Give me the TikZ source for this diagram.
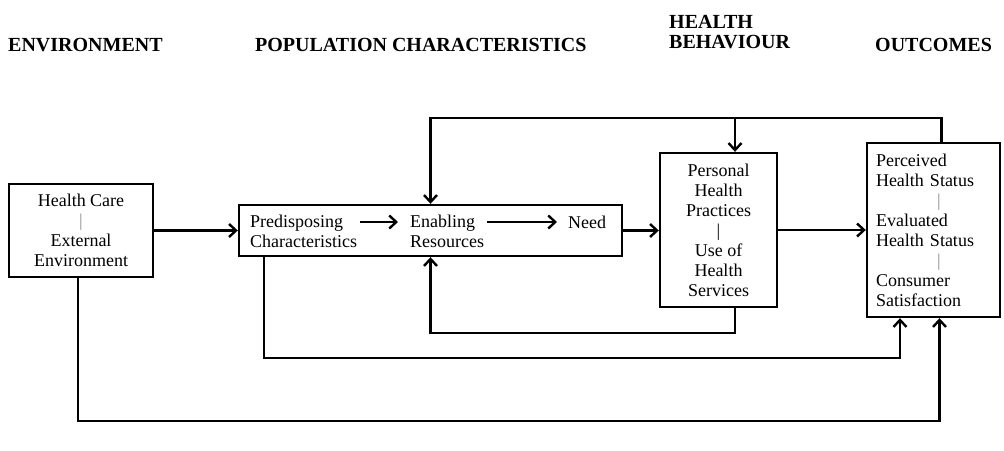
\documentclass[tikz,border=0pt]{standalone}
\usepackage{fontspec}
\setmainfont{Liberation Serif}
\usetikzlibrary{arrows.meta}
\definecolor{sepgray}{gray}{0.55}
\begin{document}
\begin{tikzpicture}[x=1pt,y=-1pt,
  box/.style={draw, line width=2.4pt, inner sep=0pt},
  txt/.style={font=\fontsize{18}{20}\selectfont},
  head/.style={font=\fontsize{20}{20}\selectfont\bfseries, inner sep=0pt},
  conn/.style={line width=2.4pt, -{Straight Barb[length=7pt,width=13pt]}},
  plainline/.style={line width=2.4pt}]
\useasboundingbox (0,0) rectangle (1004,450);

% headings
\node[head, anchor=west] (h1) at (8,45) {ENVIRONMENT};
\node[head, anchor=west] (h2) at (255,45) {POPULATION CHARACTERISTICS};
\node[head, anchor=west, align=left] (h3) at (669,32) {HEALTH\\BEHAVIOUR};
\node[head, anchor=west] (h4) at (875,45) {OUTCOMES};

% boxes
\node[box, txt, minimum width=144pt, minimum height=93pt, align=center] (env) at (81,230.5)
  {Health Care\\\textcolor{sepgray}{|}\\External\\Environment};
\node[box, minimum width=383pt, minimum height=51pt] (pop) at (430.5,230.5) {};
\node[txt, align=left, anchor=west, inner sep=0pt] (pre) at (250,231.5) {Predisposing\\Characteristics};
\node[txt, align=left, anchor=west, inner sep=0pt] (ena) at (410,231.5) {Enabling\\Resources};
\node[txt, anchor=west, inner sep=0pt] (need) at (568,222) {Need};
\node[box, txt, minimum width=117pt, minimum height=154pt, align=center] (php) at (718.5,230)
  {Personal\\Health\\Practices\\|\\Use of\\Health\\Services};
\node[box, txt, minimum width=133pt, minimum height=174pt, text width=115pt, inner xsep=9pt, align=left] (out) at (933.5,230)
  {Perceived\\Health Status\\\hspace*{61pt}\textcolor{sepgray}{|}\\Evaluated\\Health Status\\\hspace*{61pt}\textcolor{sepgray}{|}\\Consumer\\Satisfaction};

% inner arrows
\draw[conn] ([xshift=3pt]pre.east |- need.center) -- ([xshift=-12pt]ena.west |- need.center);
\draw[conn] ([xshift=3pt]ena.east |- need.center) -- ([xshift=-11pt]need.west);

% main flow
\draw[conn] (env.east) -- (pop.west);
\draw[conn] (pop.east) -- (php.west |- pop.east);
\draw[conn] (php.east) -- (out.west |- php.east);

% top feedback
\coordinate (toprow) at (0,118);
\coordinate (jn) at (735,118);
\draw[conn] ([xshift=8pt]out.north) |- (toprow -| pop.north) -- (pop.north);
\draw[conn] (jn) -- (jn |- php.north);

% bottom loops
\draw[conn] ([xshift=16.5pt]php.south) -- ++(0,25) -| (pop.south);
\draw[conn] ([xshift=26pt]pop.south west) -- ++(0,101) -| ([xshift=-33.5pt]out.south);
\draw[conn] ([xshift=-3pt]env.south) -- ++(0,143) -| ([xshift=6pt]out.south);
\end{tikzpicture}
\end{document}
